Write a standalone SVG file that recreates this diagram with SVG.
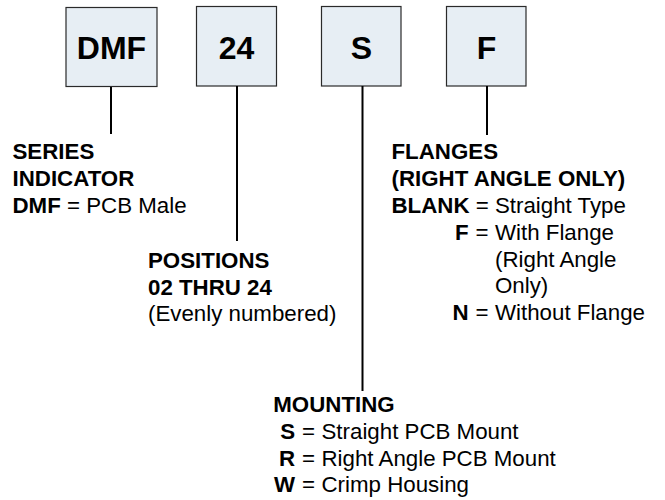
<svg xmlns="http://www.w3.org/2000/svg" width="665" height="500" viewBox="0 0 665 500">
<style>
.box{fill:#e7eef4;stroke:#2a2a2a;stroke-width:1.2}
.bt{font-family:"Liberation Sans",Arial,sans-serif;font-weight:bold;font-size:32px;fill:#000;text-anchor:middle}
.t{font-family:"Liberation Sans",Arial,sans-serif;font-size:22.3px;fill:#000}
.b{font-weight:bold}
.con line{stroke:#000;stroke-width:2}
</style>
<rect width="665" height="500" fill="#fff"/>
<g id="node-dmf"><rect class="box" x="66" y="7.5" width="91" height="79"/><text class="bt" x="111.5" y="58.5">DMF</text></g>
<g id="node-24"><rect class="box" x="196.5" y="6.5" width="80" height="79.5"/><text class="bt" x="236.5" y="58.5">24</text></g>
<g id="node-s"><rect class="box" x="321.5" y="6.5" width="79.5" height="79.5"/><text class="bt" x="361.5" y="58.5">S</text></g>
<g id="node-f"><rect class="box" x="446.5" y="6.5" width="79.5" height="79.5"/><text class="bt" x="486.5" y="58.5">F</text></g>
<g id="connectors" class="con">
<line x1="111" y1="87" x2="111" y2="134"/>
<line x1="237" y1="86" x2="237" y2="241"/>
<line x1="362.5" y1="86" x2="362.5" y2="391"/>
<line x1="487" y1="86" x2="487" y2="135"/>
</g>
<g id="label-series" class="t">
<text x="12.5" y="159" class="b">SERIES</text>
<text x="12.5" y="186" class="b">INDICATOR</text>
<text x="12.5" y="213"><tspan class="b">DMF</tspan> = PCB Male</text>
</g>
<g id="label-positions" class="t">
<text x="148" y="267.5" class="b">POSITIONS</text>
<text x="148" y="294.5" class="b">02 THRU 24</text>
<text x="148" y="321">(Evenly numbered)</text>
</g>
<g id="label-flanges" class="t">
<text x="391.5" y="159" class="b">FLANGES</text>
<text x="391.5" y="186" class="b">(RIGHT ANGLE ONLY)</text>
<text x="391.5" y="213"><tspan class="b">BLANK</tspan> = Straight Type</text>
<text x="468.5" y="240" class="b" text-anchor="end">F</text>
<text x="475.5" y="240">=</text>
<text x="495" y="240">With Flange</text>
<text x="495" y="266.5">(Right Angle</text>
<text x="495" y="293">Only)</text>
<text x="468.5" y="320" class="b" text-anchor="end">N</text>
<text x="475.5" y="320">=</text>
<text x="495" y="320">Without Flange</text>
</g>
<g id="label-mounting" class="t">
<text x="273.3" y="412" class="b">MOUNTING</text>
<text x="295" y="439" class="b" text-anchor="end">S</text>
<text x="302" y="439">=</text>
<text x="321.5" y="439">Straight PCB Mount</text>
<text x="295" y="465.5" class="b" text-anchor="end">R</text>
<text x="302" y="465.5">=</text>
<text x="321.5" y="465.5">Right Angle PCB Mount</text>
<text x="295" y="492" class="b" text-anchor="end">W</text>
<text x="302" y="492">=</text>
<text x="321.5" y="492">Crimp Housing</text>
</g>
</svg>
